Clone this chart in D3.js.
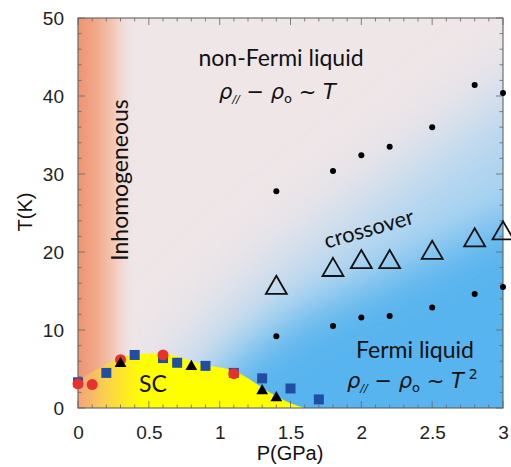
<!DOCTYPE html>
<html lang="en">
<head>
<meta charset="UTF-8">
<title>Phase diagram</title>
<script src="https://d3js.org/d3.v7.min.js"></script>
<style>
  body { margin: 0; background: #fff; }
  .tick text { font-family: "Liberation Sans", Arial, sans-serif; font-size: 19px; fill: #222; }
  .lbl { font-family: Lato, "Open Sans", sans-serif; fill: #111; }
</style>
</head>
<body>
<script>
var width = 511, height = 467;
var margin = {top: 18, right: 8, bottom: 59, left: 78};

// data
var redP = [0, 0.1, 0.3, 0.6, 1.1];
var redT = [3.1, 3.0, 6.2, 6.8, 4.4];
var sqP = [0, 0.2, 0.4, 0.6, 0.7, 0.9, 1.1, 1.3, 1.5, 1.7];
var sqT = [3.3, 4.5, 6.8, 6.4, 5.8, 5.4, 4.5, 3.8, 2.5, 1.1];
var triP = [0.3, 0.8, 1.3, 1.4];
var triT = [5.7, 5.3, 2.2, 1.3];
var upperP = [1.4, 1.8, 2.0, 2.2, 2.5, 2.8, 3.0];
var upperT = [27.8, 30.4, 32.4, 33.5, 36.0, 41.4, 40.4];
var crossP = [1.4, 1.8, 2.0, 2.2, 2.5, 2.8, 3.0];
var crossT = [15.4, 17.7, 18.7, 18.7, 19.9, 21.5, 22.4];
var lowerP = [1.4, 1.8, 2.0, 2.2, 2.5, 2.8, 3.0];
var lowerT = [9.2, 10.5, 11.6, 11.8, 12.9, 14.6, 15.5];
// superconducting dome outline
var domeP = [0, 0.1, 0.2, 0.3, 0.4, 0.5, 0.6, 0.7, 0.8, 0.9, 1.0, 1.1, 1.2, 1.3, 1.4, 1.5, 1.6];
var domeT = [3.6, 4.6, 5.6, 6.4, 6.9, 7.0, 7.0, 6.6, 6.0, 5.5, 5.2, 4.8, 3.8, 2.6, 1.5, 0.6, 0];
var xTicks = [0, 0.5, 1, 1.5, 2, 2.5, 3];
var yTicks = [0, 10, 20, 30, 40, 50];

var x = d3.scaleLinear().domain([0, 3]).range([margin.left, width - margin.right]);
var y = d3.scaleLinear().domain([0, 50]).range([height - margin.bottom, margin.top]);

var svg = d3.select('body').append('svg').attr('width', width).attr('height', height);
var defs = svg.append('defs');

defs.append('clipPath').attr('id', 'plot')
  .append('rect').attr('x', x(0)).attr('y', y(50))
  .attr('width', x(3) - x(0)).attr('height', y(0) - y(50));

defs.append('filter').attr('id', 'blurBig')
  .attr('x', '-50%').attr('y', '-50%').attr('width', '200%').attr('height', '200%')
  .append('feGaussianBlur').attr('stdDeviation', 38);
defs.append('filter').attr('id', 'blurMid')
  .attr('x', '-50%').attr('y', '-50%').attr('width', '200%').attr('height', '200%')
  .append('feGaussianBlur').attr('stdDeviation', 22);

var og = defs.append('linearGradient').attr('id', 'orange')
  .attr('gradientUnits', 'userSpaceOnUse')
  .attr('x1', x(0)).attr('x2', x(0.42)).attr('y1', 0).attr('y2', 0);
og.append('stop').attr('offset', 0).attr('stop-color', '#ee9472');
og.append('stop').attr('offset', 0.3).attr('stop-color', '#f0a888');
og.append('stop').attr('offset', 0.6).attr('stop-color', '#f2c8b6');
og.append('stop').attr('offset', 1).attr('stop-color', '#efe6e8').attr('stop-opacity', 0);

var yg = defs.append('linearGradient').attr('id', 'yellow')
  .attr('gradientUnits', 'userSpaceOnUse')
  .attr('x1', x(0)).attr('x2', x(0.45)).attr('y1', 0).attr('y2', 0);
yg.append('stop').attr('offset', 0).attr('stop-color', '#f4a47a');
yg.append('stop').attr('offset', 0.45).attr('stop-color', '#fbd24c');
yg.append('stop').attr('offset', 1).attr('stop-color', '#ffff00');

var bg = svg.append('g').attr('clip-path', 'url(#plot)');
bg.append('rect').attr('x', x(0)).attr('y', y(50))
  .attr('width', x(3) - x(0)).attr('height', y(0) - y(50)).attr('fill', '#efe6e8');

var line = d3.line().x(function (d) { return x(d[0]); }).y(function (d) { return y(d[1]); });

// pale blue wide glow and saturated core
bg.append('path')
  .attr('d', line([[0.35, -10], [3.6, -10], [3.6, 46], [3.0, 39], [2.2, 28], [1.4, 17], [0.8, 6]]) + 'Z')
  .attr('fill', '#a9d3f1').attr('filter', 'url(#blurBig)');
bg.append('path')
  .attr('d', line([[0.75, -10], [3.6, -10], [3.6, 28], [3.0, 24], [2.2, 17], [1.5, 11], [1.0, 4]]) + 'Z')
  .attr('fill', '#58b4ee').attr('filter', 'url(#blurMid)');

bg.append('rect').attr('x', x(0)).attr('y', y(50))
  .attr('width', x(0.42) - x(0)).attr('height', y(0) - y(50)).attr('fill', 'url(#orange)');

var dome = domeP.map(function (p, i) { return [p, domeT[i]]; });
bg.append('path')
  .attr('d', d3.line().curve(d3.curveMonotoneX)
    .x(function (d) { return x(d[0]); }).y(function (d) { return y(d[1]); })(dome)
    + 'L' + x(1.6) + ',' + y(0) + 'L' + x(0) + ',' + y(0) + 'Z')
  .attr('fill', 'url(#yellow)');

// axes with inward ticks on all four sides
function minor(a, b, s) { return d3.range(a, b + s / 2, s); }
var frame = svg.append('g');
frame.append('rect').attr('x', x(0)).attr('y', y(50))
  .attr('width', x(3) - x(0)).attr('height', y(0) - y(50))
  .attr('fill', 'none').attr('stroke', '#555').attr('stroke-width', 1);

var ax = svg.append('g').attr('transform', 'translate(0,' + y(0) + ')')
  .call(d3.axisBottom(x).tickValues(xTicks).tickSize(0).tickPadding(18)
    .tickFormat(function (d) { return d3.format('')(d); }));
ax.select('.domain').remove();
var ay = svg.append('g').attr('transform', 'translate(' + x(0) + ',0)')
  .call(d3.axisLeft(y).tickValues(yTicks).tickSize(0).tickPadding(14));
ay.select('.domain').remove();

var tk = svg.append('g').attr('stroke', '#666').attr('stroke-width', 0.8);
minor(0, 3, 0.1).forEach(function (p, i) {
  var len = (i % 5 === 0) ? 7 : 3.5;
  tk.append('line').attr('x1', x(p)).attr('x2', x(p)).attr('y1', y(0)).attr('y2', y(0) - len);
  tk.append('line').attr('x1', x(p)).attr('x2', x(p)).attr('y1', y(50)).attr('y2', y(50) + len);
});
minor(0, 50, 2).forEach(function (t, i) {
  var len = (i % 5 === 0) ? 7 : 3.5;
  tk.append('line').attr('y1', y(t)).attr('y2', y(t)).attr('x1', x(0)).attr('x2', x(0) + len);
  tk.append('line').attr('y1', y(t)).attr('y2', y(t)).attr('x1', x(3)).attr('x2', x(3) - len);
});

// data marks
var pts = svg.append('g');
pts.selectAll('.sq').data(sqP).join('rect')
  .attr('x', function (d) { return x(d) - 5; })
  .attr('y', function (d, i) { return y(sqT[i]) - 5; })
  .attr('width', 10).attr('height', 10).attr('fill', '#1f4ea3');
pts.selectAll('.red').data(redP).join('circle')
  .attr('cx', function (d) { return x(d); })
  .attr('cy', function (d, i) { return y(redT[i]); })
  .attr('r', 5.5).attr('fill', '#e8312f');
var triSym = d3.symbol().type(d3.symbolTriangle).size(60);
pts.selectAll('.tri').data(triP).join('path')
  .attr('d', triSym)
  .attr('transform', function (d, i) { return 'translate(' + x(d) + ',' + y(triT[i]) + ')'; })
  .attr('fill', '#000');
pts.selectAll('.up').data(upperP).join('circle')
  .attr('cx', function (d) { return x(d); })
  .attr('cy', function (d, i) { return y(upperT[i]); })
  .attr('r', 3).attr('fill', '#000');
pts.selectAll('.lo').data(lowerP).join('circle')
  .attr('cx', function (d) { return x(d); })
  .attr('cy', function (d, i) { return y(lowerT[i]); })
  .attr('r', 3).attr('fill', '#000');
var openTri = d3.symbol().type(d3.symbolTriangle).size(190);
pts.selectAll('.cr').data(crossP).join('path')
  .attr('d', openTri)
  .attr('transform', function (d, i) { return 'translate(' + x(d) + ',' + y(crossT[i]) + ')'; })
  .attr('fill', 'none').attr('stroke', '#111').attr('stroke-width', 1.8);

// labels
svg.append('text').attr('class', 'lbl').attr('x', 290).attr('y', 460)
  .attr('text-anchor', 'middle').style('font-family', '"Liberation Sans", Arial, sans-serif')
  .style('font-size', '20px').text('P(GPa)');
svg.append('text').attr('class', 'lbl')
  .attr('transform', 'translate(32,' + 212 + ') rotate(-90)')
  .attr('text-anchor', 'middle').style('font-family', '"Liberation Sans", Arial, sans-serif')
  .style('font-size', '20px').text('T(K)');

svg.append('text').attr('class', 'lbl')
  .attr('transform', 'translate(128,180) rotate(-90)')
  .attr('text-anchor', 'middle').style('font-size', '23px').text('Inhomogeneous');
svg.append('text').attr('class', 'lbl').attr('x', 281).attr('y', 66)
  .attr('text-anchor', 'middle').style('font-size', '23px').text('non-Fermi liquid');
svg.append('text').attr('class', 'lbl').attr('x', 415).attr('y', 358)
  .attr('text-anchor', 'middle').style('font-size', '23px').text('Fermi liquid');
svg.append('text').attr('class', 'lbl').attr('x', 153).attr('y', 392)
  .attr('text-anchor', 'middle').style('font-size', '23px').text('SC');
svg.append('text').attr('class', 'lbl')
  .attr('transform', 'translate(371,236) rotate(-16)')
  .attr('text-anchor', 'middle').style('font-size', '22px').text('crossover');

function formula(px, py, sq) {
  var t = svg.append('text').attr('class', 'lbl').attr('x', px).attr('y', py)
    .style('font-family', '"DejaVu Sans", sans-serif').style('font-size', '21px');
  t.append('tspan').style('font-style', 'italic').text('ρ');
  t.append('tspan').attr('dy', 4).style('font-size', '11px').style('font-style', 'italic').text('//');
  t.append('tspan').attr('dy', -4).text(' − ');
  t.append('tspan').style('font-style', 'italic').text('ρ');
  t.append('tspan').attr('dy', 4).style('font-size', '13px').text('o');
  t.append('tspan').attr('dy', -4).text(' ~ ');
  t.append('tspan').style('font-style', 'italic').text('T');
  if (sq) t.append('tspan').attr('dy', -9).attr('dx', 5).style('font-size', '14px').text('2');
}
formula(219, 99, false);
formula(347, 388, true);
</script>
</body>
</html>
